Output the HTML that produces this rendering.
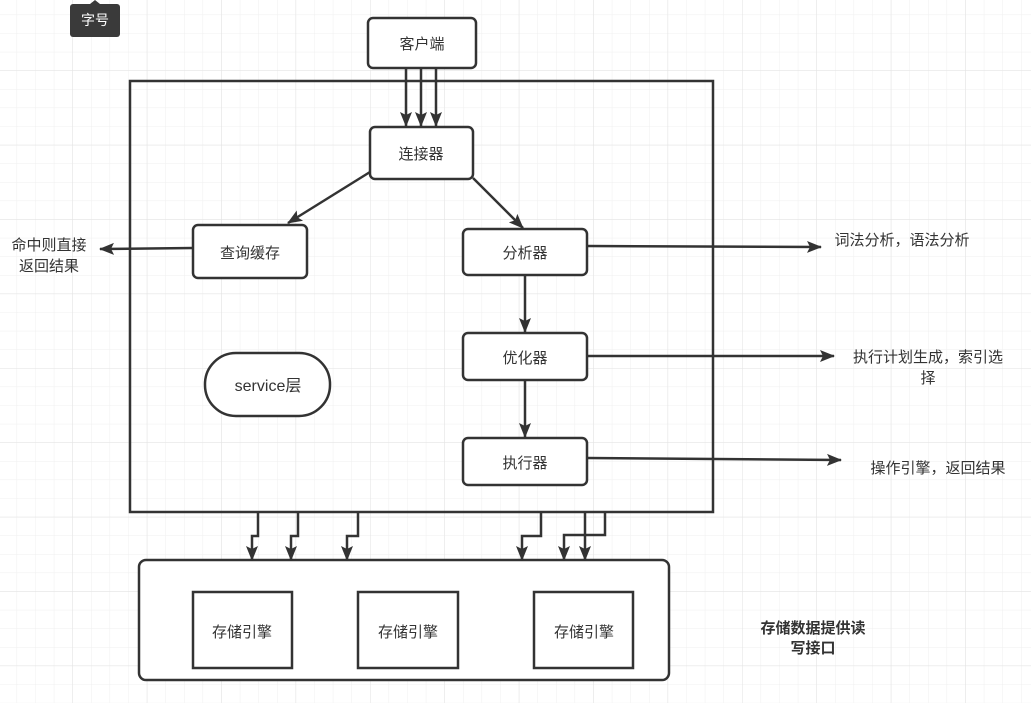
<!DOCTYPE html>
<html><head><meta charset="utf-8"><style>
body{margin:0;width:1031px;height:703px;overflow:hidden;background:#fff;font-family:"Liberation Sans","Noto Sans CJK SC",sans-serif}
svg{position:absolute;left:0;top:0}
</style></head><body>
<svg width="1031" height="703" viewBox="0 0 1031 703" xmlns="http://www.w3.org/2000/svg">
<defs>
<pattern id="g" x="-1.5" y="-3.5" width="18.6" height="18.6" patternUnits="userSpaceOnUse"><path d="M18.6 0V18.6M0 18.6H18.6" stroke="#efefef" stroke-width="1" fill="none"/></pattern>
<pattern id="G" x="-1.5" y="-3.5" width="74.4" height="74.4" patternUnits="userSpaceOnUse"><path d="M74.4 0V74.4M0 74.4H74.4" stroke="#e2e2e2" stroke-width="1" fill="none"/></pattern>
<marker id="a" markerWidth="16" markerHeight="14" refX="14" refY="7" orient="auto" markerUnits="userSpaceOnUse"><path d="M0 1L15 7L0 13L3 7Z" fill="#333"/></marker>
</defs>
<rect width="1031" height="703" fill="url(#g)"/>
<rect width="1031" height="703" fill="url(#G)"/>
<g fill="#fff" stroke="#333" stroke-width="2.5">
<rect x="130" y="81" width="583" height="431" fill="none"/>
<rect x="368" y="18" width="108" height="50" rx="5"/>
<rect x="370" y="127" width="103" height="52" rx="5"/>
<rect x="193" y="225" width="114" height="53" rx="5"/>
<rect x="463" y="229" width="124" height="46" rx="5"/>
<rect x="463" y="333" width="124" height="47" rx="5"/>
<rect x="463" y="438" width="124" height="47" rx="5"/>
<rect x="205" y="353" width="125" height="63" rx="31"/>
<rect x="139" y="560" width="530" height="120" rx="7"/>
<rect x="193" y="592" width="99" height="76"/>
<rect x="358" y="592" width="100" height="76"/>
<rect x="534" y="592" width="99" height="76"/>
</g>
<g stroke="#333" stroke-width="2.5" fill="none" marker-end="url(#a)">
<path d="M406 68V126"/><path d="M421 68V126"/><path d="M436 68V126"/>
<path d="M370 172L288 223"/><path d="M473 178L523 228"/>
<path d="M193 248L100 249"/>
<path d="M587 246L821 247"/>
<path d="M587 356L834 356"/>
<path d="M587 458L841 460"/>
<path d="M525 275V332"/><path d="M525 380V437"/>
<path d="M258 512V536H252V560"/>
<path d="M298 512V536H291V560"/>
<path d="M358 512V536H347V560"/>
<path d="M541 512V536H522V560"/>
<path d="M605 512V535H564V560"/>
<path d="M585 512V560"/>
</g>
<g font-size="15" fill="#333" text-anchor="middle" font-family="Liberation Sans,Noto Sans CJK SC,sans-serif">
<text x="422" y="49">客户端</text>
<text x="421" y="159">连接器</text>
<text x="250" y="258">查询缓存</text>
<text x="525" y="258">分析器</text>
<text x="525" y="363">优化器</text>
<text x="525" y="468">执行器</text>
<text x="268" y="391" font-size="16">service层</text>
<text x="242" y="637">存储引擎</text>
<text x="408" y="637">存储引擎</text>
<text x="584" y="637">存储引擎</text>
<text x="49" y="250">命中则直接</text>
<text x="49" y="271">返回结果</text>
<text x="902" y="245">词法分析，语法分析</text>
<text x="928" y="362">执行计划生成，索引选</text>
<text x="928" y="383">择</text>
<text x="938" y="473">操作引擎，返回结果</text>
<text x="813" y="633" font-weight="bold">存储数据提供读</text>
<text x="813" y="653" font-weight="bold">写接口</text>
</g>
<rect x="70" y="4" width="50" height="33" rx="3" fill="#3a3a3a"/>
<path d="M90 4L95 0L100 4Z" fill="#3a3a3a"/>
<text x="95" y="25" font-size="14" fill="#fff" text-anchor="middle" font-family="Liberation Sans,Noto Sans CJK SC,sans-serif">字号</text>
</svg>
</body></html>
